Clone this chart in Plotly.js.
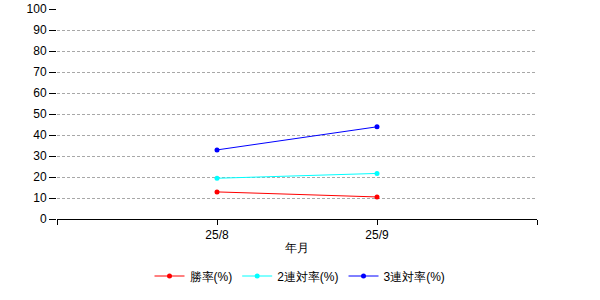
<!DOCTYPE html>
<html>
<head>
<meta charset="utf-8">
<script src="https://cdn.plot.ly/plotly-3.0.1.min.js"></script>
<style>html,body{margin:0;padding:0;background:#fff;}#chart{width:600px;height:300px;}</style>
</head>
<body>
<div id="chart"></div>
<script>
var categories = ['25/8', '25/9'];
var winRate = [12.9, 10.5];
var top2Rate = [19.4, 21.7];
var top3Rate = [32.9, 43.9];
var seriesNames = ['勝率(%)', '2連対率(%)', '3連対率(%)'];
var seriesColors = ['#ff0000', '#00ffff', '#0000ff'];
var yTicks = [0, 10, 20, 30, 40, 50, 60, 70, 80, 90, 100];

var xIdx = categories.map(function (c, i) { return i; });
var tickVals = [-1].concat(xIdx).concat([categories.length]);
var tickText = [''].concat(categories).concat(['']);

var font = 'Liberation Sans, Arial, sans-serif';
var data = [winRate, top2Rate, top3Rate].map(function (vals, k) {
  return {
    x: xIdx, y: vals, name: seriesNames[k], type: 'scatter', mode: 'lines+markers',
    line: {color: seriesColors[k], width: 1},
    marker: {color: seriesColors[k], size: 5}
  };
});

var layout = {
  width: 600, height: 300,
  margin: {l: 57, r: 63, t: 9, b: 81, autoexpand: false},
  paper_bgcolor: '#fff', plot_bgcolor: '#fff',
  font: {family: font, size: 12, color: '#000'},
  showlegend: true,
  legend: {orientation: 'h', x: 0.5, xanchor: 'center', xref: 'container', yref: 'container', y: 0.08, yanchor: 'middle', font: {family: font, size: 12, color: '#000'}, itemwidth: 30, tracegroupgap: 0},
  xaxis: {
    range: [-1, categories.length], tickmode: 'array', tickvals: tickVals, ticktext: tickText,
    showgrid: false, zeroline: false, showline: true, linecolor: '#000', linewidth: 1,
    ticks: 'outside', ticklen: 5, tickcolor: '#000',
    title: {text: '年月', font: {family: font, size: 12, color: '#000'}, standoff: 2},
    automargin: false,
    fixedrange: true
  },
  yaxis: {
    range: [0, 100], tickmode: 'array', tickvals: yTicks,
    showgrid: true, gridcolor: '#a8a8a8', griddash: '3px,2px', gridwidth: 1,
    zeroline: false, showline: false,
    ticks: 'outside', ticklen: 7, tickcolor: '#000',
    automargin: false,
    fixedrange: true
  }
};
Plotly.newPlot('chart', data, layout, {displayModeBar: false, staticPlot: true});
</script>
</body>
</html>
